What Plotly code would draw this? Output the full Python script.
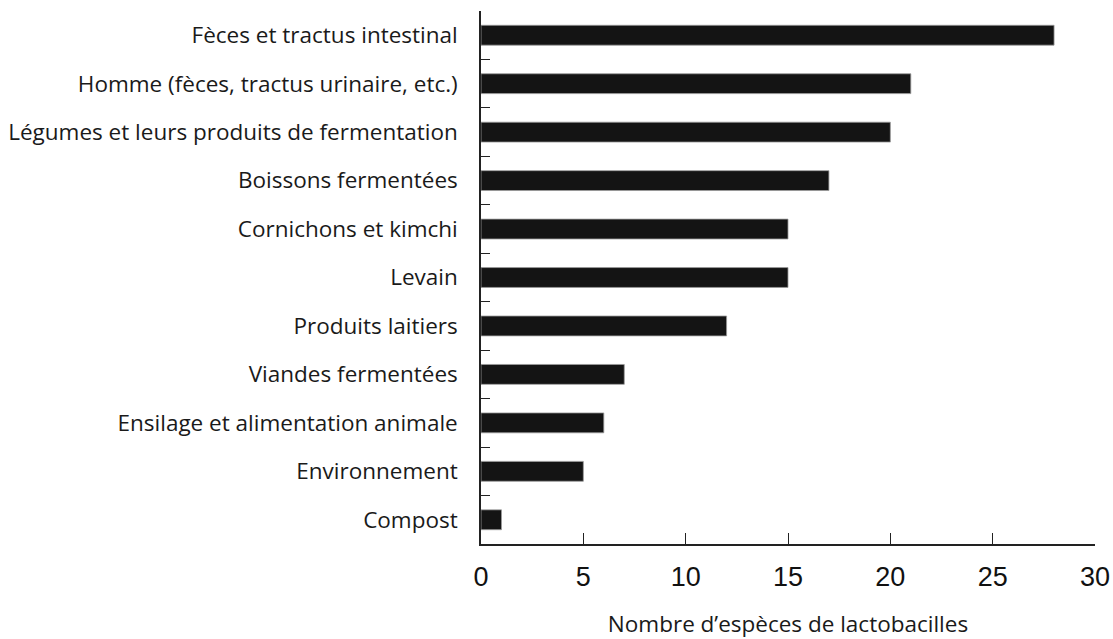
import plotly.graph_objects as go

categories = [
    "Fèces et tractus intestinal",
    "Homme (fèces, tractus urinaire, etc.)",
    "Légumes et leurs produits de fermentation",
    "Boissons fermentées",
    "Cornichons et kimchi",
    "Levain",
    "Produits laitiers",
    "Viandes fermentées",
    "Ensilage et alimentation animale",
    "Environnement",
    "Compost",
]
values = [28, 21, 20, 17, 15, 15, 12, 7, 6, 5, 1]
x_ticks = [0, 5, 10, 15, 20, 25, 30]

fig = go.Figure(
    go.Bar(
        x=values,
        y=categories,
        orientation="h",
        width=0.41,
        marker=dict(color="#141414", line=dict(color="#9a9a9a", width=0.8)),
    )
)

fig.update_layout(
    width=1113,
    height=639,
    margin=dict(l=481, r=18, t=11, b=95, autoexpand=False),
    plot_bgcolor="white",
    paper_bgcolor="white",
    showlegend=False,
    font=dict(family="Open Sans", color="#1a1a1a"),
)

fig.update_xaxes(
    range=[0, 30],
    tickvals=x_ticks,
    ticks="inside",
    ticklen=11,
    tickwidth=1.3,
    tickcolor="#222",
    showline=True,
    linecolor="#222",
    linewidth=1.5,
    showgrid=False,
    zeroline=False,
    automargin=False,
    tickfont=dict(family="Liberation Sans, Arial", size=27, color="#111"),
    ticklabelstandoff=8,
    title=dict(
        text="Nombre d’espèces de lactobacilles",
        font=dict(family="Open Sans", size=22.5, color="#1a1a1a"),
        standoff=26,
    ),
)

fig.update_yaxes(
    type="category",
    categoryorder="array",
    categoryarray=categories[::-1],
    range=[-0.5, len(categories) - 0.5],
    tickson="boundaries",
    ticks="inside",
    ticklen=9,
    tickwidth=1.3,
    tickcolor="#222",
    showline=True,
    linecolor="#222",
    linewidth=1.5,
    showgrid=False,
    zeroline=False,
    automargin=False,
    tickfont=dict(family="Open Sans", size=22.5, color="#1a1a1a"),
    ticklabelstandoff=17,
)

fig.write_html(
    "out.html",
    config={"displayModeBar": False},
    post_script="document.body.style.margin='0px';document.body.style.overflow='hidden';",
)
